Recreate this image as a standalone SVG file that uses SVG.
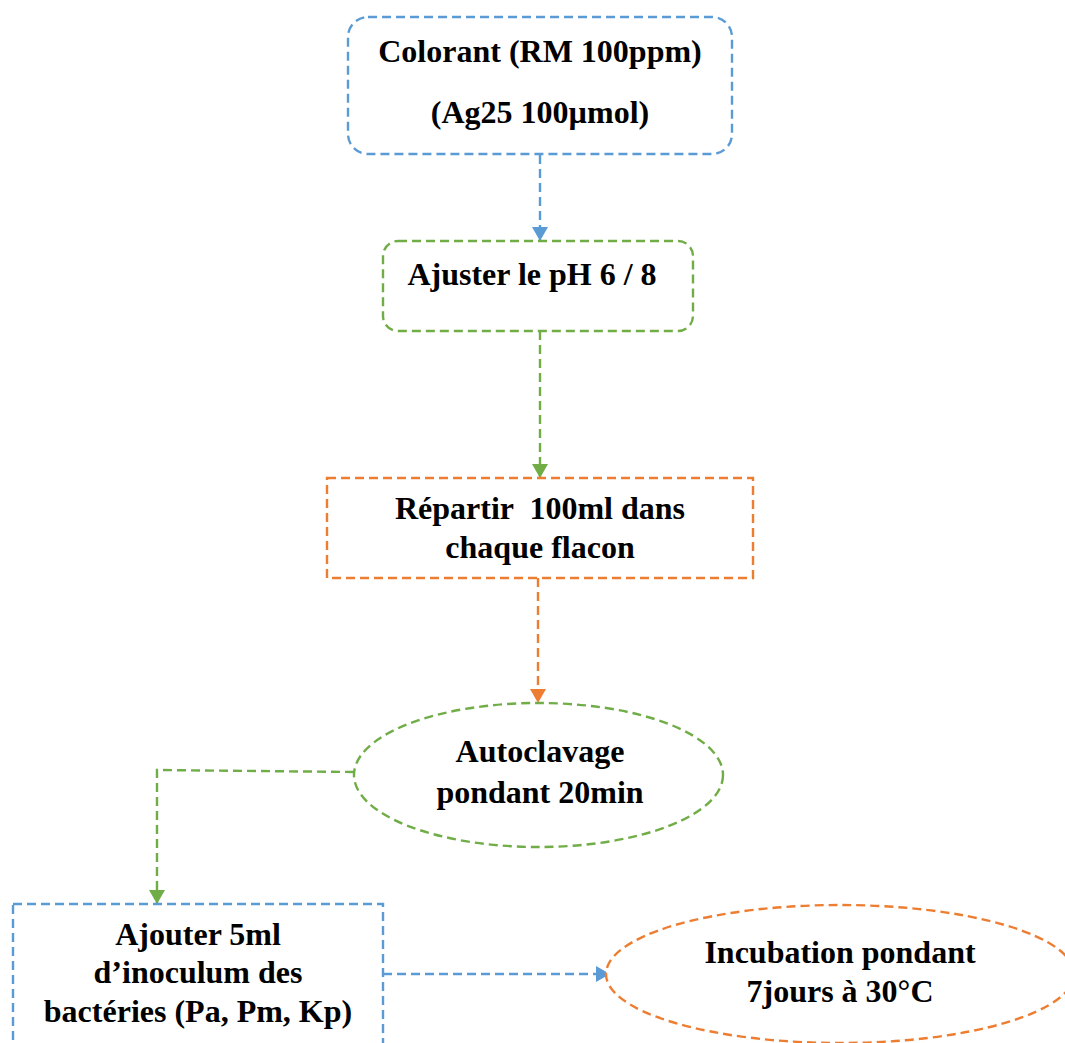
<svg xmlns="http://www.w3.org/2000/svg" width="1065" height="1043" viewBox="0 0 1065 1043">
<style>
text{font-family:"Liberation Serif","Times New Roman",serif;font-weight:bold;font-size:32px;fill:#000;text-anchor:middle;white-space:pre}
.b{stroke:#5B9BD5}
.g{stroke:#70AD47}
.o{stroke:#ED7D31}
.shape{fill:#fff;stroke-width:2.4;stroke-dasharray:9 5}
.conn{fill:none;stroke-width:2.4;stroke-dasharray:9 5}
</style>
<defs>
<marker id="ab" markerUnits="userSpaceOnUse" markerWidth="15" markerHeight="17" refX="14" refY="8" orient="auto"><path d="M0,0 L14,8 L0,16 z" fill="#5B9BD5"/></marker>
<marker id="ag" markerUnits="userSpaceOnUse" markerWidth="15" markerHeight="17" refX="14" refY="8" orient="auto"><path d="M0,0 L14,8 L0,16 z" fill="#70AD47"/></marker>
<marker id="ao" markerUnits="userSpaceOnUse" markerWidth="15" markerHeight="17" refX="14" refY="8" orient="auto"><path d="M0,0 L14,8 L0,16 z" fill="#ED7D31"/></marker>
</defs>
<rect width="1065" height="1043" fill="#fff"/>
<g id="connectors">
<path class="conn b" d="M540,155 L540,241" marker-end="url(#ab)"/>
<path class="conn g" d="M540,331 L540,478" marker-end="url(#ag)"/>
<path class="conn o" d="M538,578 L538,703" marker-end="url(#ao)"/>
<path class="conn g" d="M354,772 L157,770 L157,904" marker-end="url(#ag)"/>
<path class="conn b" d="M383,974 L610,974" marker-end="url(#ab)"/>
</g>
<g id="node-colorant">
<rect class="shape b" x="348" y="17" width="384" height="137" rx="20"/>
<text x="540" y="62">Colorant (RM 100ppm)</text>
<text x="540" y="123">(Ag25 100µmol)</text>
</g>
<g id="node-ph">
<rect class="shape g" x="383" y="241" width="310" height="90" rx="15"/>
<text x="532" y="285">Ajuster le pH 6 / 8</text>
</g>
<g id="node-repartir">
<rect class="shape o" x="327" y="478" width="426" height="100"/>
<text x="540" y="519">Répartir  100ml dans</text>
<text x="540" y="558">chaque flacon</text>
</g>
<g id="node-autoclavage">
<ellipse class="shape g" cx="538.5" cy="775" rx="184.5" ry="72"/>
<text x="540" y="762">Autoclavage</text>
<text x="540" y="803">pondant 20min</text>
</g>
<g id="node-ajouter">
<rect class="shape b" x="13" y="904" width="370" height="160"/>
<text x="198" y="945">Ajouter 5ml</text>
<text x="198" y="983">d’inoculum des</text>
<text x="198" y="1022">bactéries (Pa, Pm, Kp)</text>
</g>
<g id="node-incubation">
<ellipse class="shape o" cx="840" cy="974" rx="234" ry="69"/>
<text x="840" y="963">Incubation pondant</text>
<text x="840" y="1002">7jours à 30°C</text>
</g>
</svg>
